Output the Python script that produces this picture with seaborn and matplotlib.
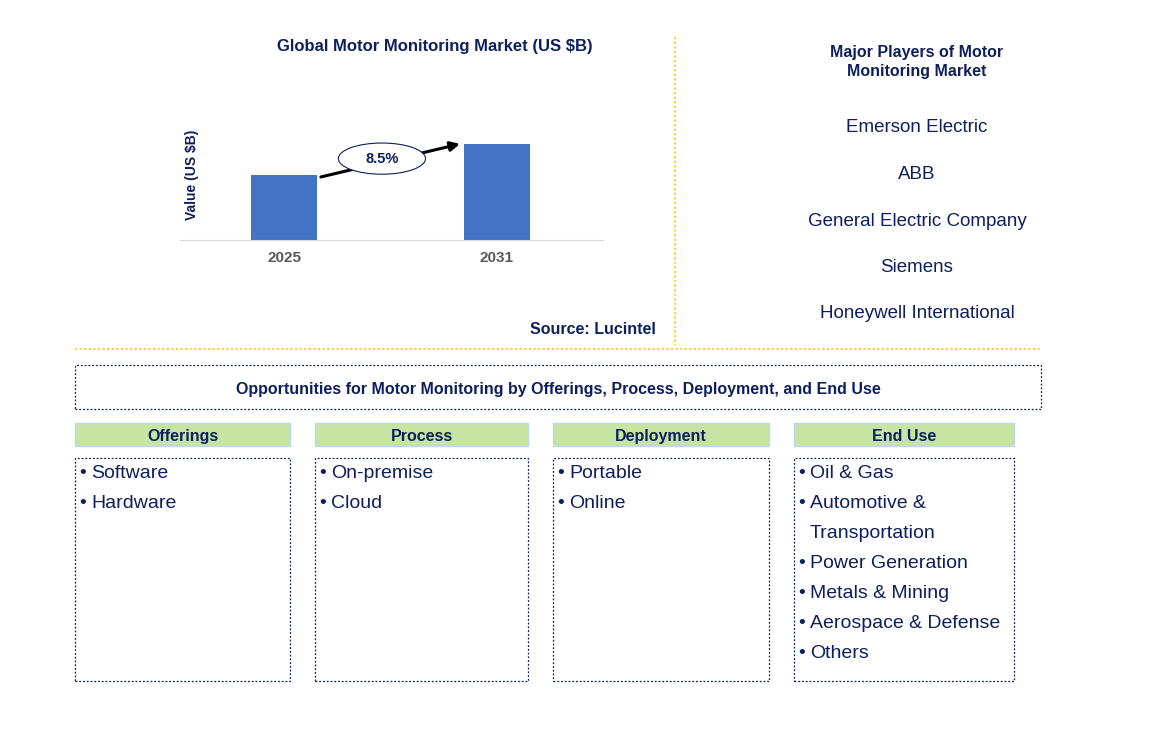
import matplotlib
matplotlib.use("Agg")
import matplotlib.pyplot as plt
import matplotlib.patches as patches
import seaborn as sns
import pandas as pd

# Data
years = ["2025", "2031"]
values = [2.5, 3.7]
cagr_label = "8.5%"

players = ["Emerson Electric", "ABB", "General Electric Company", "Siemens",
           "Honeywell International"]

segments = ["Offerings", "Process", "Deployment", "End Use"]
offerings = ["Software", "Hardware"]
process = ["On-premise", "Cloud"]
deployment = ["Portable", "Online"]
end_use = ["Oil & Gas", "Automotive &\nTransportation", "Power Generation",
           "Metals & Mining", "Aerospace & Defense", "Others"]

NAVY = "#0d1f5c"
BLUE = "#4472c4"
W, H = 1170, 742

plt.rcParams["font.family"] = "Liberation Sans"
fig = plt.figure(figsize=(11.7, 7.42), dpi=100)


def fx(x):
    return x / W


def fy(y):
    return 1 - y / H


# Bar chart
ax = fig.add_axes([fx(180), fy(240), fx(603 - 180), (240 - 110) / H])
df = pd.DataFrame({"year": years, "value": values})
sns.barplot(data=df, x="year", y="value", color=BLUE, width=0.31, ax=ax,
            saturation=1)
ax.set_xlim(-0.49, 1.5)
ax.set_ylim(0, 5)
ax.set_yticks([])
ax.set_xlabel("")
ax.set_ylabel("Value (US $B)", color=NAVY, fontsize=10, fontweight="bold")
ax.yaxis.set_label_coords(0.045, 0.5)
for s in ["top", "right", "left"]:
    ax.spines[s].set_visible(False)
ax.spines["bottom"].set_color("#d9d9d9")
ax.tick_params(axis="x", length=0, pad=8, labelsize=11, labelcolor="#595959")
for t in ax.get_xticklabels():
    t.set_fontweight("bold")

ax.annotate("", xy=(1 - 0.16, values[1] + 0.02), xytext=(0 + 0.16, values[0] - 0.1),
            arrowprops=dict(arrowstyle="-|>", color="black", lw=2.2, mutation_scale=14),
            annotation_clip=False)
ax.add_patch(patches.Ellipse((0.46, 3.13), 0.41, 1.2, facecolor="white",
                             edgecolor=NAVY, lw=0.8, zorder=5))
ax.text(0.46, 3.13, cagr_label, ha="center", va="center", fontsize=10.5,
        fontweight="bold", color=NAVY, zorder=6)

fig.text(fx(435), fy(46), "Global Motor Monitoring Market (US $B)", ha="center",
         va="center", fontsize=12, fontweight="bold", color=NAVY)
fig.text(fx(656), fy(329), "Source: Lucintel", ha="right", va="center",
         fontsize=11.5, fontweight="bold", color=NAVY)

# Separators
fig.add_artist(plt.Line2D([fx(675), fx(675)], [fy(37), fy(345)], color="#ffc000",
                          lw=1.1, ls=(0, (1.5, 1.5))))
fig.add_artist(plt.Line2D([fx(75), fx(1041)], [fy(349), fy(349)], color="#ffc000",
                          lw=1.1, ls=(0, (1.5, 1.5))))

# Players
fig.text(fx(917), fy(62), "Major Players of Motor\nMonitoring Market", ha="center",
         va="center", fontsize=11.5, fontweight="bold", color=NAVY, linespacing=1.3)
for i, p in enumerate(players):
    fig.text(fx(917), fy(126 + i * 46.5), p, ha="center", va="center_baseline",
             fontsize=13.5, color=NAVY)


def box(x0, y0, x1, y1, **kw):
    fig.add_artist(patches.Rectangle((fx(x0), fy(y1)), fx(x1 - x0), (y1 - y0) / H,
                                     transform=fig.transFigure, **kw))


box(75, 365, 1041, 409, facecolor="none", edgecolor=NAVY, lw=0.9, ls=(0, (1.5, 1.5)))
fig.text(fx(558), fy(388), "Opportunities for Motor Monitoring by Offerings, Process, "
         "Deployment, and End Use", ha="center", va="center_baseline", fontsize=11.5,
         fontweight="bold", color=NAVY)

cols = [(75, 290), (315, 528), (553, 769), (794, 1014)]
items = [offerings, process, deployment, end_use]
for (x0, x1), seg, its in zip(cols, segments, items):
    box(x0, 423, x1, 446, facecolor="#c6e5a2", edgecolor="#bdd7ee", lw=1)
    fig.text(fx((x0 + x1) / 2), fy(435), seg, ha="center", va="center_baseline",
             fontsize=11.5, fontweight="bold", color=NAVY)
    box(x0, 458, x1, 681, facecolor="none", edgecolor=NAVY, lw=0.9, ls=(0, (1.5, 1.5)))
    row = 0
    for it in its:
        for j, ln in enumerate(it.split("\n")):
            y = fy(472 + row * 30)
            if j == 0:
                fig.text(fx(x0 + 4), y, "\u2022", ha="left", va="center_baseline",
                         fontsize=14, color=NAVY)
            fig.text(fx(x0 + 16), y, ln, ha="left", va="center_baseline",
                     fontsize=14, color=NAVY)
            row += 1

fig.savefig("out.png", dpi=100)
